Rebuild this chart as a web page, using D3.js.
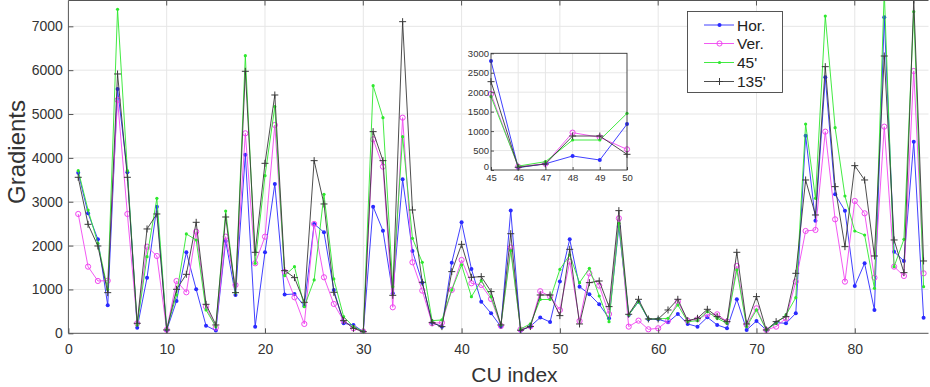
<!DOCTYPE html>
<html>
<head>
<meta charset="utf-8">
<script src="https://cdn.jsdelivr.net/npm/d3@7"></script>
<style>
  body { margin: 0; background: #fff; }
  svg { display: block; font-family: "Liberation Sans", Arial, sans-serif; }
</style>
</head>
<body>
<svg id="chart" width="930" height="387"></svg>
<script>
// CU index 1..87
const cuIndex = d3.range(1, 88);

const hor = [3663, 2736, 2143, 638, 5571, 3671, 129, 1269, 2888, 70,
  737, 1847, 1003, 175, 61, 2105, 874, 4074, 152, 1847,
  3405, 882, 897, 623, 2493, 2303, 988, 228, 190, 38,
  2888, 2341, 912, 3511, 1877, 1155, 240, 152, 1611, 2531,
  1467, 722, 456, 152, 2800, 60, 160, 360, 257, 1180,
  2143, 1064, 889, 661, 342, 2432, 418, 722, 320, 320,
  251, 441, 213, 152, 365, 190, 114, 775, 76, 281,
  76, 243, 228, 456, 4507, 2569, 5837, 3169, 2797, 1079,
  1596, 532, 7205, 1862, 1649, 4370, 357];

const ver = [2721, 1520, 1193, 1200, 5320, 2721, 228, 1976, 1763, 80,
  1193, 935, 2318, 608, 129, 2204, 1102, 4560, 1596, 2204,
  4750, 1400, 821, 213, 2493, 1277, 669, 289, 114, 38,
  4423, 3800, 593, 4917, 1619, 973, 228, 243, 988, 1672,
  1140, 1102, 783, 170, 1954, 86, 160, 960, 840, 531,
  1634, 281, 1368, 1087, 440, 2622, 152, 289, 91, 114,
  289, 722, 289, 319, 433, 433, 266, 1535, 190, 570,
  76, 152, 342, 1178, 2333, 2356, 4598, 2599, 1178, 3017,
  2736, 1269, 4712, 1520, 1307, 5981, 1368];

const d45 = [3709, 2812, 2052, 1000, 7387, 3709, 190, 1748, 3078, 90,
  874, 2265, 2128, 532, 152, 2789, 927, 6331, 1596, 3595,
  5168, 1315, 1520, 608, 1216, 3169, 1239, 380, 152, 38,
  5647, 4917, 1064, 4484, 2166, 1619, 289, 304, 988, 1558,
  836, 1200, 836, 190, 1886, 100, 214, 771, 771, 1457,
  1786, 1155, 1482, 851, 266, 2508, 418, 722, 327, 327,
  342, 646, 266, 289, 494, 342, 228, 1444, 152, 532,
  76, 228, 418, 813, 4773, 3078, 7235, 4689, 3131, 2333,
  2242, 1026, 7800, 1520, 2143, 7334, 1064];

const d135 = [3557, 2485, 1991, 927, 5913, 3557, 228, 2379, 2721, 76,
  1003, 1345, 2531, 661, 190, 2652, 927, 5974, 1847, 3876,
  5434, 1429, 1269, 707, 3937, 2949, 935, 289, 114, 38,
  4598, 3937, 866, 7106, 2812, 1163, 243, 152, 1406, 2029,
  1277, 1292, 950, 190, 2271, 70, 154, 874, 874, 403,
  1915, 213, 1155, 1193, 608, 2797, 433, 775, 327, 327,
  532, 775, 289, 342, 547, 380, 266, 1847, 213, 836,
  76, 266, 380, 1368, 3496, 2698, 6080, 3344, 1976, 3823,
  3496, 1763, 6323, 2128, 1383, 7600, 1649];

const xTicks = [0, 10, 20, 30, 40, 50, 60, 70, 80];
const yTicks = [0, 1000, 2000, 3000, 4000, 5000, 6000, 7000];
const insetX = [45, 46, 47, 48, 49, 50];
const insetYTicks = [0, 500, 1000, 1500, 2000, 2500, 3000];

const series = [
  { name: 'Hor.', values: hor, color: '#2a2aff', marker: 'dot' },
  { name: 'Ver.', values: ver, color: '#f046f0', marker: 'circle' },
  { name: "45'", values: d45, color: '#2ee82e', marker: 'small' },
  { name: "135'", values: d135, color: '#3a3a3a', marker: 'plus' }
];

const svg = d3.select('#chart');
const pLeft = 68.4, pRight = 928.5, pTop = 0.5, pBottom = 333.3;

const x = d3.scaleLinear().domain([0, 87.5]).range([pLeft, pRight]);
const y = d3.scaleLinear().domain([0, 7600]).range([pBottom, 0]);

const gridColor = '#e6e6e6';
const axisColor = '#555';
const textColor = '#333';
const fmt = d3.format('d');

// grid
const grid = svg.append('g');
grid.selectAll('line.gx').data(xTicks.slice(1)).join('line')
  .attr('x1', d => x(d)).attr('x2', d => x(d))
  .attr('y1', pTop).attr('y2', pBottom)
  .attr('stroke', gridColor);
grid.selectAll('line.gy').data(yTicks.slice(1)).join('line')
  .attr('x1', pLeft).attr('x2', pRight)
  .attr('y1', d => y(d)).attr('y2', d => y(d))
  .attr('stroke', gridColor);

function drawMarker(g, type, color, cx, cy) {
  if (type === 'dot') {
    g.append('circle').attr('cx', cx).attr('cy', cy).attr('r', 2).attr('fill', color);
  } else if (type === 'circle') {
    g.append('circle').attr('cx', cx).attr('cy', cy).attr('r', 2.6)
      .attr('fill', 'none').attr('stroke', color).attr('stroke-width', 1);
  } else if (type === 'small') {
    g.append('circle').attr('cx', cx).attr('cy', cy).attr('r', 1.6).attr('fill', color);
  } else {
    g.append('path')
      .attr('d', `M${cx - 3.5},${cy}H${cx + 3.5}M${cx},${cy - 3.5}V${cy + 3.5}`)
      .attr('stroke', color).attr('stroke-width', 1);
  }
}

function drawSeries(g, xs, ys, xIdx) {
  const line = d3.line().x(d => xs(d[0])).y(d => ys(d[1]));
  series.forEach(s => {
    const pts = xIdx.map(i => [cuIndex[i], s.values[i]]);
    g.append('path').datum(pts)
      .attr('d', line)
      .attr('fill', 'none')
      .attr('stroke', s.color)
      .attr('stroke-width', 0.9);
    const mg = g.append('g');
    pts.forEach(p => drawMarker(mg, s.marker, s.color, xs(p[0]), ys(p[1])));
  });
}

svg.append('clipPath').attr('id', 'clip')
  .append('rect').attr('x', pLeft).attr('y', pTop)
  .attr('width', pRight - pLeft).attr('height', pBottom - pTop);

const plot = svg.append('g').attr('clip-path', 'url(#clip)');
drawSeries(plot, x, y, d3.range(cuIndex.length));

// axes
const xAxis = svg.append('g')
  .attr('transform', `translate(0,${pBottom})`)
  .call(d3.axisBottom(x).tickValues(xTicks).tickFormat(fmt)
    .tickSizeInner(-5).tickSizeOuter(0).tickPadding(11));
const yAxis = svg.append('g')
  .attr('transform', `translate(${pLeft},0)`)
  .call(d3.axisLeft(y).tickValues(yTicks).tickFormat(fmt)
    .tickSizeInner(-5).tickSizeOuter(0).tickPadding(5.5));
[xAxis, yAxis].forEach(a => {
  a.select('.domain').attr('stroke', axisColor);
  a.selectAll('.tick line').attr('stroke', axisColor);
  a.selectAll('.tick text').attr('fill', textColor).style('font-size', '14px');
});
xAxis.select('.domain').attr('d', `M${pLeft},0H${pRight}`);
yAxis.select('.domain').attr('d', `M0,${pBottom}V${pTop}`);

// top border with inward ticks
svg.append('line').attr('x1', pLeft).attr('x2', pRight).attr('y1', pTop).attr('y2', pTop)
  .attr('stroke', axisColor);
svg.append('g').selectAll('line').data(xTicks.slice(1)).join('line')
  .attr('x1', d => x(d)).attr('x2', d => x(d)).attr('y1', pTop).attr('y2', pTop + 5)
  .attr('stroke', axisColor);

// axis titles
svg.append('text')
  .attr('x', (pLeft + pRight) / 2 + 16).attr('y', 382)
  .attr('text-anchor', 'middle')
  .attr('fill', textColor)
  .style('font-size', '21px')
  .text('CU index');
svg.append('text')
  .attr('transform', 'translate(25,152) rotate(-90)')
  .attr('text-anchor', 'middle')
  .attr('fill', textColor)
  .style('font-size', '24px')
  .text('Gradients');

// inset
const iLeft = 491, iRight = 627, iTop = 53.3, iBottom = 170;
const xi = d3.scaleLinear().domain([45, 50]).range([iLeft, iRight]);
const yi = d3.scaleLinear().domain([0, 3000]).range([iBottom, iTop]);
const inset = svg.append('g');
inset.append('rect')
  .attr('x', iLeft).attr('y', iTop)
  .attr('width', iRight - iLeft).attr('height', iBottom - iTop)
  .attr('fill', '#fff');
inset.selectAll('line.igx').data(insetX.slice(1, -1)).join('line')
  .attr('x1', d => xi(d)).attr('x2', d => xi(d))
  .attr('y1', iTop).attr('y2', iBottom).attr('stroke', gridColor);
inset.selectAll('line.igy').data(insetYTicks.slice(1, -1)).join('line')
  .attr('x1', iLeft).attr('x2', iRight)
  .attr('y1', d => yi(d)).attr('y2', d => yi(d)).attr('stroke', gridColor);
const insetIdx = cuIndex.map((c, i) => i).filter(i => cuIndex[i] >= 45 && cuIndex[i] <= 50);
drawSeries(inset.append('g'), xi, yi, insetIdx);
const ixAxis = inset.append('g').attr('transform', `translate(0,${iBottom})`)
  .call(d3.axisBottom(xi).tickValues(insetX).tickFormat(fmt)
    .tickSizeInner(-3).tickSizeOuter(0).tickPadding(4));
const iyAxis = inset.append('g').attr('transform', `translate(${iLeft},0)`)
  .call(d3.axisLeft(yi).tickValues(insetYTicks).tickFormat(fmt)
    .tickSizeInner(-3).tickSizeOuter(0).tickPadding(2));
[ixAxis, iyAxis].forEach(a => {
  a.select('.domain').remove();
  a.selectAll('.tick line').attr('stroke', axisColor);
  a.selectAll('.tick text').attr('fill', textColor).style('font-size', '9.5px');
});
// lift the inset's y "0" so it sits above the "45"
iyAxis.selectAll('.tick text').filter(d => d === 0).attr('dy', '-0.05em');
inset.append('rect')
  .attr('x', iLeft).attr('y', iTop)
  .attr('width', iRight - iLeft).attr('height', iBottom - iTop)
  .attr('fill', 'none').attr('stroke', '#333').attr('stroke-width', 0.9);

// legend
const legend = svg.append('g');
legend.append('rect')
  .attr('x', 687.5).attr('y', 11.5).attr('width', 95).attr('height', 81)
  .attr('fill', '#fff').attr('stroke', '#444').attr('stroke-width', 0.9);
const legendY = [25, 43.5, 62.5, 81.5];
series.forEach((s, i) => {
  const ly = legendY[i];
  legend.append('line')
    .attr('x1', 704).attr('x2', 734).attr('y1', ly).attr('y2', ly)
    .attr('stroke', s.color).attr('stroke-width', 0.9);
  drawMarker(legend, s.marker, s.color, 719.5, ly);
  legend.append('text')
    .attr('x', 737).attr('y', ly).attr('dy', '0.36em')
    .attr('fill', '#222')
    .style('font-size', '15.5px')
    .text(s.name);
});
</script>
</body>
</html>
